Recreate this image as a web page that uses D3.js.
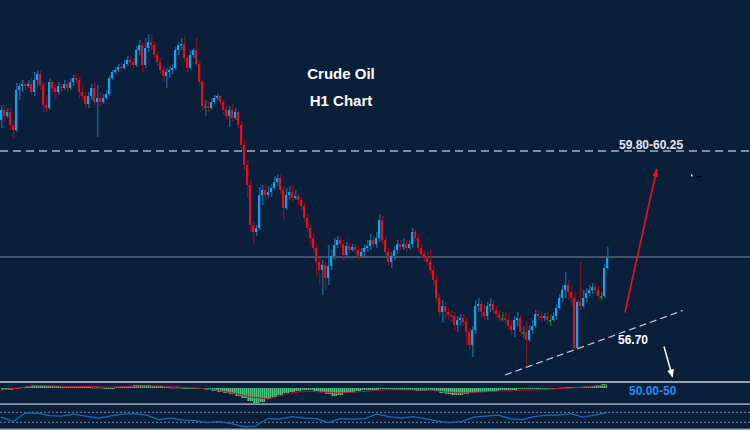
<!DOCTYPE html>
<html><head><meta charset="utf-8">
<script src="https://cdn.jsdelivr.net/npm/d3@7"></script>
<style>html,body{margin:0;padding:0;background:#0a1f3a;overflow:hidden}svg{display:block}</style>
</head><body><svg id="c" width="750" height="430"></svg>
<script>
// ---- data (Crude Oil H1) ----
const firstOpen = 60.60;
const closes = [60.80,60.68,60.76,60.50,60.40,61.20,61.28,61.32,61.28,61.32,
61.16,61.40,61.52,61.30,60.90,60.84,61.36,61.24,61.16,61.28,
61.24,61.32,61.24,61.36,61.44,61.40,61.16,61.08,60.92,61.08,
61.24,60.96,61.04,60.96,61.04,61.12,61.44,61.56,61.60,61.66,
61.64,61.72,61.80,61.76,61.70,62.00,62.10,61.70,62.04,62.16,
62.10,61.90,61.76,61.60,61.48,61.56,61.60,61.64,62.00,62.10,
62.12,61.84,61.64,61.90,62.00,61.72,61.36,60.88,60.88,60.84,
60.96,61.04,61.08,60.96,60.80,60.68,60.80,60.64,60.76,60.50,
60.10,59.70,59.30,58.50,58.36,58.44,59.10,59.20,59.10,59.16,
59.24,59.36,59.44,59.20,58.84,59.10,59.16,59.04,59.08,59.00,
58.88,58.64,58.44,58.24,58.04,57.76,57.60,57.70,57.44,57.68,
57.88,58.10,58.20,58.12,57.90,58.08,58.00,58.06,58.00,57.88,
57.96,58.04,58.08,58.20,58.12,58.24,58.60,58.20,57.96,57.76,
57.88,58.00,58.12,58.06,58.12,58.04,58.12,58.36,58.24,58.04,
57.92,57.84,57.76,57.60,57.40,57.04,56.76,56.88,56.76,56.70,
56.68,56.50,56.60,56.64,56.56,56.36,56.10,56.40,56.88,56.92,
56.76,56.68,56.88,56.92,56.80,56.72,56.64,56.64,56.60,56.48,
56.40,56.60,56.64,56.36,56.36,56.20,56.40,56.48,56.72,56.68,
56.64,56.68,56.60,56.60,56.68,56.84,57.04,57.20,57.30,57.16,
57.04,56.04,56.96,56.88,57.04,57.14,57.20,57.26,57.20,57.08,
57.08,57.64,57.84];
const highs = [60.90,60.88,60.84,60.84,60.60,61.34,61.34,61.40,61.36,61.40,
61.44,61.56,61.60,61.60,61.36,61.10,61.44,61.40,61.32,61.36,
61.32,61.40,61.36,61.44,61.50,61.54,61.48,61.30,61.16,61.16,
61.32,61.36,61.30,61.16,61.12,61.20,61.50,61.60,61.66,61.72,
61.74,61.80,61.88,61.88,61.84,62.08,62.20,62.16,62.24,62.32,
62.30,62.16,61.96,61.84,61.68,61.64,61.68,61.72,62.06,62.16,
62.24,62.28,61.90,62.00,62.04,62.24,61.80,61.40,61.00,60.98,
61.04,61.10,61.12,61.10,61.00,60.88,60.88,60.92,60.84,60.80,
60.56,60.20,59.80,59.40,58.56,58.50,59.26,59.30,59.32,59.28,
59.32,59.48,59.52,59.50,59.28,59.24,59.28,59.30,59.20,59.14,
59.06,58.94,58.72,58.50,58.32,58.10,57.84,57.80,57.76,58.10,
58.00,58.24,58.28,58.26,58.20,58.16,58.14,58.12,58.12,58.08,
58.04,58.12,58.20,58.32,58.28,58.36,58.72,58.68,58.28,58.04,
57.96,58.08,58.20,58.20,58.24,58.20,58.20,58.44,58.40,58.32,
58.12,58.00,57.96,58.00,57.68,57.50,57.12,57.00,56.96,56.84,
56.80,56.76,56.68,56.72,56.72,56.64,56.44,56.48,57.00,57.04,
57.00,56.90,56.96,57.04,57.00,56.88,56.80,56.76,56.76,56.72,
56.60,56.68,56.76,56.70,56.48,56.56,56.50,56.60,56.80,56.80,
56.76,56.74,56.76,56.72,56.76,56.92,57.12,57.30,57.56,57.40,
57.28,57.16,57.00,57.76,57.20,57.24,57.30,57.34,57.32,57.28,
57.16,57.72,58.06];
const lows = [60.44,60.56,60.64,60.40,60.24,60.36,61.00,61.16,61.20,61.24,
61.10,61.08,61.28,61.20,60.76,60.76,60.80,61.10,61.00,61.10,
61.16,61.20,61.16,61.20,61.28,61.32,61.04,61.00,60.84,60.84,
61.00,60.90,60.26,60.88,60.92,61.00,61.08,61.40,61.52,61.56,
61.58,61.60,61.68,61.68,61.64,61.66,61.90,61.56,61.64,61.96,
62.00,61.84,61.68,61.52,61.36,61.24,61.44,61.52,61.60,61.90,
62.00,61.76,61.56,61.60,61.84,61.68,61.28,60.80,60.68,60.76,
60.80,60.92,61.00,60.88,60.72,60.60,60.46,60.56,60.60,60.44,
60.00,59.60,59.04,58.36,58.14,58.28,58.40,58.90,59.00,59.04,
59.06,59.20,59.28,59.12,58.60,58.80,59.00,58.96,59.00,58.90,
58.80,58.56,58.36,58.10,57.96,57.46,57.30,57.10,57.20,57.30,
57.60,57.80,58.04,58.04,57.80,57.84,57.92,57.96,57.90,57.80,
57.84,57.88,57.96,58.00,58.04,58.04,58.16,58.12,57.88,57.68,
57.64,57.80,57.92,58.00,58.00,57.96,58.00,58.04,58.16,57.96,
57.84,57.76,57.68,57.50,57.30,56.94,56.68,56.54,56.64,56.60,
56.56,56.40,56.36,56.50,56.48,56.10,56.00,55.86,56.32,56.76,
56.64,56.60,56.60,56.76,56.72,56.64,56.56,56.56,56.52,56.40,
56.30,56.26,56.48,56.30,56.24,55.66,56.16,56.32,56.44,56.60,
56.56,56.58,56.52,56.48,56.56,56.60,56.80,56.96,57.04,57.00,
56.90,56.00,56.00,56.80,56.84,56.96,57.08,57.12,57.12,57.00,
57.00,57.04,57.60];
const targetLevel = 59.98;     // dashed 59.80-60.25 zone line
const pivotLevel = 57.86;      // solid horizontal line
const macdHist = [-0.02,-0.02,-0.01,0.01,0.02,0.03,0.03,
0.02,0.02,0.02,0.01,0.01,0.01,0.01,0.01,0.005,0.005,
-0.01,-0.01,
0.01,0.02,0.02,0.03,0.03,0.03,0.02,0.02,0.01,
0.005,0.005,0,0,-0.005,
-0.01,-0.02,-0.03,-0.04,-0.05,-0.06,
-0.08,-0.10,-0.13,-0.15,-0.14,
-0.11,-0.09,-0.07,-0.05,-0.04,
-0.03,-0.02,-0.02,-0.03,-0.04,
-0.06,-0.08,-0.07,-0.05,
-0.04,-0.03,-0.02,-0.02,-0.02,-0.01,
-0.01,-0.02,-0.02,-0.02,-0.02,-0.03,-0.03,-0.02,-0.03,
-0.05,-0.06,-0.07,-0.07,-0.06,-0.05,
-0.04,-0.04,-0.03,-0.03,-0.02,-0.02,-0.02,-0.01,
-0.01,-0.01,-0.01,-0.005,-0.005,0,0.005,0.01,
0.01,0.01,0.02,0.02,0.03,0.04];
const macdSignal = [-0.02,0,0.025,0.02,0.015,0.015,0.01,0.015,0.02,0.02,0.01,0,-0.02,-0.05,-0.09,-0.11,-0.06,-0.03,-0.04,-0.05,-0.04,-0.025,-0.015,-0.02,-0.02,-0.04,-0.05,-0.04,-0.03,-0.025,-0.02,-0.01,0,0.015,0.03];
const rsi = [51,33,67,67,57,55,63,55,47,55,63,65,59,41,47,39,37,29,33,25,13,15,45,43,53,47,45,29,45,43,45,63,53,47,53,45,35,29,33,51,55,59,45,41,53,59,59,65,51,59,69];
const rsiLevels = [70, 30];
const titleLines = ["Crude Oil", "H1 Chart"];
const targetLabel = "59.80-60.25";
const supportLabel = "56.70";
const macdLabel = "50.00-50";
// annotation anchors (candle index, price)
const trendLine = [[168, 55.50], [227.3, 56.79]];
const upArrow = [[208, 56.75], [218.6, 59.62]];
const downArrow = [[221, 56.07], [223.8, 55.47]];

// ---- drawing ----
const W = 750, H = 430;
const svg = d3.select('#c');
svg.append('rect').attr('width', W).attr('height', H).attr('fill', '#0a1f3a');
const defs = svg.append('defs');
const pat = defs.append('pattern').attr('id', 'stripes').attr('patternUnits', 'userSpaceOnUse')
  .attr('width', 2).attr('height', 10);
pat.append('rect').attr('x', 0).attr('y', 0).attr('width', 1).attr('height', 10).attr('fill', '#4cc47e');
pat.append('rect').attr('x', 1).attr('y', 0).attr('width', 1).attr('height', 10).attr('fill', '#2a8a52');
function marker(id, color, w, h) {
  defs.append('marker').attr('id', id).attr('viewBox', `0 0 ${w} ${h}`)
    .attr('refX', w - 1).attr('refY', h / 2).attr('markerWidth', w).attr('markerHeight', h)
    .attr('markerUnits', 'userSpaceOnUse').attr('orient', 'auto')
    .append('path').attr('d', `M0,0 L${w},${h/2} L0,${h} Z`).attr('fill', color);
}
marker('arrRed', '#e3141e', 9, 6);
marker('arrWhite', '#ffffff', 8, 7);

const N = closes.length;
const opens = closes.map((c, i) => i === 0 ? firstOpen : closes[i - 1]);
const x = d3.scaleLinear().domain([0, N - 1]).range([1, 607]);
const y = d3.scaleLinear().domain([55.5, 63]).range([375, 0]);

// level lines
svg.append('line').attr('x1', 0).attr('x2', W).attr('y1', y(targetLevel)).attr('y2', y(targetLevel))
  .attr('stroke', '#a9b1ba').attr('stroke-width', 1.3).attr('stroke-dasharray', '8,5');
svg.append('line').attr('x1', 0).attr('x2', W).attr('y1', y(pivotLevel)).attr('y2', y(pivotLevel))
  .attr('stroke', '#7f8a97').attr('stroke-width', 1);

// candles
const data = d3.range(N).map(i => ({i, o: opens[i], c: closes[i], h: highs[i], l: lows[i]}));
const col = d => d.c > d.o ? 'up' : (d.c < d.o ? 'down' : 'flat');
const bodyC = {up: '#1aa0e6', down: '#e3101c', flat: '#1f9a3a'};
const wickC = {up: '#1a6ea6', down: '#95121f', flat: '#1c7a34'};
const g = svg.append('g');
g.selectAll('.wick').data(data).join('rect').attr('class', 'wick')
  .attr('x', d => x(d.i) + 0.2).attr('width', 1.2)
  .attr('y', d => y(Math.max(d.h, d.o, d.c)))
  .attr('height', d => Math.max(1, y(Math.min(d.l, d.o, d.c)) - y(Math.max(d.h, d.o, d.c))))
  .attr('fill', d => wickC[col(d)]);
g.selectAll('.body').data(data).join('rect').attr('class', 'body')
  .attr('x', d => x(d.i) - 1).attr('width', 2)
  .attr('y', d => y(Math.max(d.o, d.c)))
  .attr('height', d => Math.max(1.5, Math.abs(y(d.o) - y(d.c))))
  .attr('fill', d => bodyC[col(d)]);

// trend line & arrows
svg.append('line').attr('x1', x(trendLine[0][0])).attr('y1', y(trendLine[0][1]))
  .attr('x2', x(trendLine[1][0])).attr('y2', y(trendLine[1][1]))
  .attr('stroke', '#c9cdd3').attr('stroke-width', 1.2).attr('stroke-dasharray', '7,4');
svg.append('line').attr('x1', x(upArrow[0][0])).attr('y1', y(upArrow[0][1]))
  .attr('x2', x(upArrow[1][0])).attr('y2', y(upArrow[1][1]))
  .attr('stroke', '#e3141e').attr('stroke-width', 1.7).attr('marker-end', 'url(#arrRed)');
svg.append('line').attr('x1', x(downArrow[0][0])).attr('y1', y(downArrow[0][1]))
  .attr('x2', x(downArrow[1][0])).attr('y2', y(downArrow[1][1]))
  .attr('stroke', '#ffffff').attr('stroke-width', 1.5).attr('marker-end', 'url(#arrWhite)');
// tiny marks near the arrow tip
svg.append('rect').attr('x', 691).attr('y', 174.5).attr('width', 1.5).attr('height', 2).attr('fill', '#e8eef5');
svg.append('rect').attr('x', 697).attr('y', 176).attr('width', 5).attr('height', 1.5).attr('fill', '#000000');

// texts
const font = '"Liberation Sans", Arial, sans-serif';
svg.selectAll('.title').data(titleLines).join('text').attr('class', 'title')
  .attr('x', 341).attr('y', (d, i) => 79 + i * 27).attr('text-anchor', 'middle')
  .attr('font-family', font).attr('font-weight', 'bold').attr('font-size', 15).attr('fill', '#ffffff').text(d => d);
svg.append('text').attr('x', 619).attr('y', y(60.02)).attr('font-family', font).attr('font-weight', 'bold')
  .attr('font-size', 12).attr('fill', '#e6e9ee').text(targetLabel);
svg.append('text').attr('x', 618).attr('y', y(56.12)).attr('font-family', font).attr('font-weight', 'bold')
  .attr('font-size', 12).attr('fill', '#ffffff').text(supportLabel);

// pane separators
[381, 403.3, 428.5].forEach(v => svg.append('rect').attr('x', 0).attr('y', v).attr('width', W)
  .attr('height', v === 381 ? 2 : 1.6).attr('fill', '#9aa2ab'));

// MACD pane
const my = d3.scaleLinear().domain([-0.15, 0.05]).range([403, 383]);
const xh = d3.scaleBand().domain(d3.range(macdHist.length)).range([1, 607]);
svg.append('g').selectAll('rect').data(macdHist).join('rect')
  .attr('x', (d, k) => xh(k)).attr('width', xh.bandwidth() + 0.05)
  .attr('y', d => Math.min(my(d), my(0))).attr('height', d => Math.max(0.8, Math.abs(my(d) - my(0))))
  .attr('fill', 'url(#stripes)');
const xsig = d3.scaleLinear().domain([0, macdSignal.length - 1]).range([1, 607]);
svg.append('path').datum(macdSignal).attr('fill', 'none').attr('stroke', '#b5182c').attr('stroke-width', 1.2)
  .attr('d', d3.line().x((d, k) => xsig(k)).y(d => my(d)));
svg.append('text').attr('x', 629).attr('y', 395).attr('font-family', font).attr('font-weight', 'bold')
  .attr('font-size', 12).attr('fill', '#1f8ef0').text(macdLabel);

// RSI pane
const ry = d3.scaleLinear().domain([0, 100]).range([429.8, 404.8]);
rsiLevels.forEach(v => svg.append('line').attr('x1', 0).attr('x2', W).attr('y1', ry(v)).attr('y2', ry(v))
  .attr('stroke', '#8a94a0').attr('stroke-width', 0.9).attr('stroke-dasharray', '2,2'));
const xr = d3.scaleLinear().domain([0, rsi.length - 1]).range([1, 607]);
svg.append('path').datum(rsi).attr('fill', 'none').attr('stroke', '#2366b6').attr('stroke-width', 1.3)
  .attr('d', d3.line().x((d, k) => xr(k)).y(d => ry(d)));
</script></body></html>
